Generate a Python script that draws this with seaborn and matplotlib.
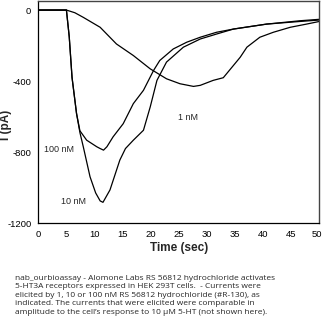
import numpy as np
import pandas as pd
import matplotlib
matplotlib.use("Agg")
import matplotlib.pyplot as plt
import matplotlib.transforms as mtransforms
import seaborn as sns

# ---- data ----
t_10 = [0, 5.0, 5.5, 6.0, 6.8, 7.4, 8.0, 9.2, 10.2, 11.0, 11.5, 12.75, 14.5, 15.5, 16.9, 18.7, 19.9, 21.1, 22.8, 25.8, 28.8, 31.7, 34.7, 40.6, 46.6, 50]
i_10 = [0, 0, -150, -380, -583, -690, -770, -939, -1030, -1075, -1083, -1013, -845, -780, -733, -677, -546, -396, -293, -209, -163, -135, -107, -79, -64, -56]

t_100 = [0, 5.0, 5.5, 6.0, 6.8, 7.4, 8.6, 10.4, 11.0, 11.6, 12.2, 13.3, 15.1, 16.9, 18.7, 20.5, 21.6, 24.0, 26.4, 28.8, 31.7, 34.7, 40.6, 46.6, 50]
i_100 = [0, 0, -150, -380, -583, -680, -733, -770, -780, -789, -770, -714, -640, -527, -452, -340, -284, -219, -181, -153, -125, -107, -79, -60, -52]

t_1 = [0, 5.0, 6.5, 8.0, 11.0, 13.9, 16.9, 19.9, 22.8, 25.2, 27.6, 28.8, 31.1, 32.9, 34.7, 35.9, 37.1, 39.4, 41.8, 44.8, 47.7, 50]
i_1 = [0, 0, -15, -41, -97, -191, -256, -331, -387, -415, -430, -424, -396, -381, -312, -266, -209, -153, -125, -97, -79, -64]

conc_labels = ["10 nM", "100 nM", "1 nM"]
x_ticks = [0, 5, 10, 15, 20, 25, 30, 35, 40, 45, 50]
y_ticks = [0, -400, -800, -1200]

caption = ("nab_ourbioassay - Alomone Labs RS 56812 hydrochloride activates\n"
           "5-HT3A receptors expressed in HEK 293T cells.  - Currents were\n"
           "elicited by 1, 10 or 100 nM RS 56812 hydrochloride (#R-130), as\n"
           "indicated. The currents that were elicited were comparable in\n"
           "amplitude to the cell\u2019s response to 10 \u00b5M 5-HT (not shown here).")

df = pd.concat([
    pd.DataFrame({"t": t_10, "I": i_10, "conc": conc_labels[0]}),
    pd.DataFrame({"t": t_100, "I": i_100, "conc": conc_labels[1]}),
    pd.DataFrame({"t": t_1, "I": i_1, "conc": conc_labels[2]}),
])

sns.set_style("white")
plt.rcParams["font.family"] = ["Liberation Sans Narrow", "Liberation Sans", "DejaVu Sans"]
plt.rcParams["axes.unicode_minus"] = False

fig = plt.figure(figsize=(3.23, 3.32), dpi=100)
ax = fig.add_axes([0.1186, 0.328, 0.8704, 0.670])

sns.lineplot(data=df, x="t", y="I", hue="conc", units="conc", estimator=None,
             palette=["black"] * 3, linewidth=0.9, legend=False, ax=ax, sort=False)

ax.set_xlim(0, 50)
ax.set_ylim(-1200, 53)
ax.set_xticks(x_ticks)
ax.set_yticks(y_ticks)
ax.tick_params(axis="both", labelsize=6.8, length=3, width=0.8, direction="out", pad=2,
               colors="black")
for s in ["left", "bottom"]:
    ax.spines[s].set_color("black")
    ax.spines[s].set_linewidth(0.9)
for s in ["top", "right"]:
    ax.spines[s].set_color("#444444")
    ax.spines[s].set_linewidth(1.0)
ax.set_xlabel("Time (sec)", fontsize=8.5, fontweight="bold", labelpad=2,
              family=["Liberation Sans", "DejaVu Sans"])
ax.set_ylabel("I (pA)", fontsize=8.5, fontweight="bold",
              family=["Liberation Sans", "DejaVu Sans"])
ax.yaxis.set_label_coords(-0.094, 0.44)

# nudge the last x tick label so it stays inside the canvas
last = ax.get_xticklabels()[-1]
last.set_transform(last.get_transform() +
                   mtransforms.ScaledTranslation(-3 / 100, 0, fig.dpi_scale_trans))

ax.text(3.6, -785, "100 nM", fontsize=6.5, ha="center", va="center")
ax.text(6.2, -1079, "10 nM", fontsize=6.5, ha="center", va="center")
ax.text(26.7, -606, "1 nM", fontsize=6.5, ha="center", va="center")

fig.text(0.045, 0.172, caption, fontsize=6.0, family=["Open Sans", "DejaVu Sans"],
         ha="left", va="top", linespacing=1.3)

fig.savefig("out.png", dpi=100)
